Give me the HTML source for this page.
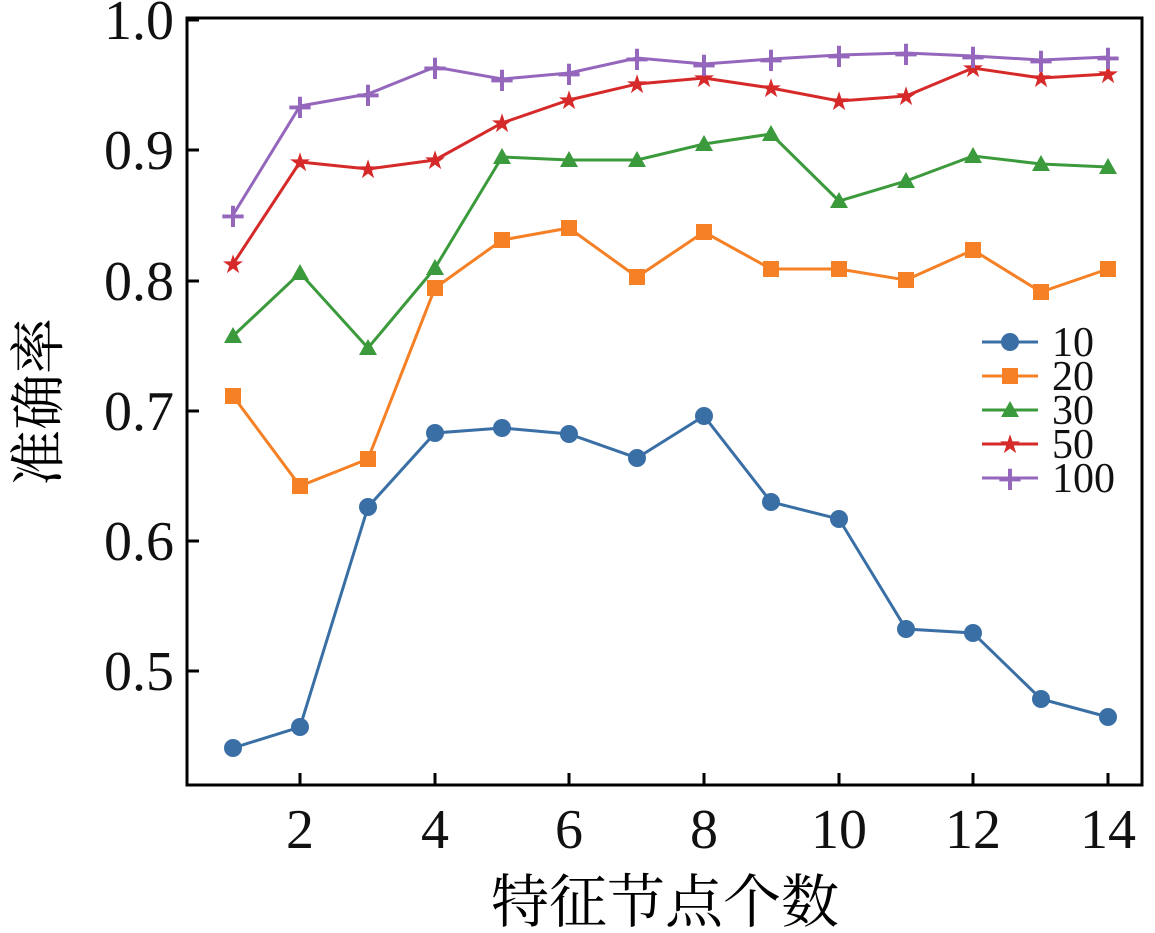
<!DOCTYPE html>
<html><head><meta charset="utf-8"><style>body{margin:0;background:#fff}svg{display:block}</style></head><body>
<svg width="1155" height="933" xmlns="http://www.w3.org/2000/svg" style="font-family:'Liberation Serif','Noto Serif CJK SC',serif">
<rect width="1155" height="933" fill="#fff"/>
<rect x="187" y="18" width="955" height="767" fill="none" stroke="#000" stroke-width="3"/>
<g stroke="#000" stroke-width="3">
<line x1="187" y1="20" x2="199" y2="20"/><line x1="187" y1="150" x2="199" y2="150"/><line x1="187" y1="281" x2="199" y2="281"/><line x1="187" y1="411" x2="199" y2="411"/><line x1="187" y1="541" x2="199" y2="541"/><line x1="187" y1="671" x2="199" y2="671"/>
<line x1="300" y1="785" x2="300" y2="773"/><line x1="435" y1="785" x2="435" y2="773"/><line x1="569" y1="785" x2="569" y2="773"/><line x1="704" y1="785" x2="704" y2="773"/><line x1="839" y1="785" x2="839" y2="773"/><line x1="973" y1="785" x2="973" y2="773"/><line x1="1108" y1="785" x2="1108" y2="773"/>
</g>
<g font-size="56" text-anchor="end" fill="#111" style="font-family:'Liberation Serif',serif">
<text x="174" y="39">1.0</text><text x="174" y="169">0.9</text><text x="174" y="300">0.8</text><text x="174" y="430">0.7</text><text x="174" y="560">0.6</text><text x="174" y="690">0.5</text>
</g>
<g font-size="56" text-anchor="middle" fill="#111" style="font-family:'Liberation Serif',serif">
<text x="300" y="848">2</text><text x="435" y="848">4</text><text x="569" y="848">6</text><text x="704" y="848">8</text><text x="839" y="848">10</text><text x="973" y="848">12</text><text x="1108" y="848">14</text>
</g>
<text x="665" y="922" font-size="58" text-anchor="middle" style="font-family:'Noto Serif CJK SC',serif">特征节点个数</text>
<text transform="translate(58,402) rotate(-90)" font-size="56" text-anchor="middle" style="font-family:'Noto Serif CJK SC',serif">准确率</text>
<g fill="none" stroke-width="3">
<polyline stroke="#3a6fa6" points="233,748 300,727 368,507 435,433 502,428 569,434 637,458 704,416 771,502 839,519 906,629 973,633 1041,699 1108,717"/>
<polyline stroke="#f58025" points="233,396 300,486 368,459 435,288 502,240 569,228 637,277 704,232 771,269 839,269 906,280 973,250 1041,292 1108,269"/>
<polyline stroke="#3b9a3b" points="233,336 300,273 368,348 435,268 502,157 569,160 637,160 704,144 771,134 839,201 906,181 973,156 1041,164 1108,167"/>
<polyline stroke="#d62a2a" points="233,264 300,162 368,169 435,160 502,123 569,100 637,84 704,78 771,88 839,101 906,96 973,68 1041,78 1108,74"/>
<polyline stroke="#9467bd" points="233,215 300,106 368,94 435,67 502,79 569,73 637,58 704,64 771,59 839,55 906,53 973,56 1041,60 1108,57"/>
</g>
<g fill="#3a6fa6">
<circle cx="233" cy="748" r="9"/><circle cx="300" cy="727" r="9"/><circle cx="368" cy="507" r="9"/><circle cx="435" cy="433" r="9"/><circle cx="502" cy="428" r="9"/><circle cx="569" cy="434" r="9"/><circle cx="637" cy="458" r="9"/><circle cx="704" cy="416" r="9"/><circle cx="771" cy="502" r="9"/><circle cx="839" cy="519" r="9"/><circle cx="906" cy="629" r="9"/><circle cx="973" cy="633" r="9"/><circle cx="1041" cy="699" r="9"/><circle cx="1108" cy="717" r="9"/>
</g>
<g fill="#f58025">
<rect x="225" y="388" width="16" height="16"/><rect x="292" y="478" width="16" height="16"/><rect x="360" y="451" width="16" height="16"/><rect x="427" y="280" width="16" height="16"/><rect x="494" y="232" width="16" height="16"/><rect x="561" y="220" width="16" height="16"/><rect x="629" y="269" width="16" height="16"/><rect x="696" y="224" width="16" height="16"/><rect x="763" y="261" width="16" height="16"/><rect x="831" y="261" width="16" height="16"/><rect x="898" y="272" width="16" height="16"/><rect x="965" y="242" width="16" height="16"/><rect x="1033" y="284" width="16" height="16"/><rect x="1100" y="261" width="16" height="16"/>
</g>
<g fill="#3b9a3b">
<polygon points="233,327 242,343 224,343"/><polygon points="300,264 309,280 291,280"/><polygon points="368,339 377,355 359,355"/><polygon points="435,259 444,275 426,275"/><polygon points="502,148 511,164 493,164"/><polygon points="569,151 578,167 560,167"/><polygon points="637,151 646,167 628,167"/><polygon points="704,135 713,151 695,151"/><polygon points="771,125 780,141 762,141"/><polygon points="839,192 848,208 830,208"/><polygon points="906,172 915,188 897,188"/><polygon points="973,147 982,163 964,163"/><polygon points="1041,155 1050,171 1032,171"/><polygon points="1108,158 1117,174 1099,174"/>
</g>
<g fill="#d62a2a" font-size="26" text-anchor="middle" style="font-family:'DejaVu Sans',sans-serif">
<text x="233" y="273">★</text><text x="300" y="171">★</text><text x="368" y="178">★</text><text x="435" y="169">★</text><text x="502" y="132">★</text><text x="569" y="109">★</text><text x="637" y="93">★</text><text x="704" y="87">★</text><text x="771" y="97">★</text><text x="839" y="110">★</text><text x="906" y="105">★</text><text x="973" y="77">★</text><text x="1041" y="87">★</text><text x="1108" y="83">★</text>
</g>
<g fill="#9467bd" font-size="34" text-anchor="middle" font-weight="bold" style="font-family:'DejaVu Sans',sans-serif">
<text x="233" y="227">+</text><text x="300" y="118">+</text><text x="368" y="106">+</text><text x="435" y="79">+</text><text x="502" y="91">+</text><text x="569" y="85">+</text><text x="637" y="70">+</text><text x="704" y="76">+</text><text x="771" y="71">+</text><text x="839" y="67">+</text><text x="906" y="65">+</text><text x="973" y="68">+</text><text x="1041" y="72">+</text><text x="1108" y="69">+</text>
</g>
<g stroke-width="3">
<line x1="982" y1="342" x2="1038" y2="342" stroke="#3a6fa6"/><circle cx="1010" cy="342" r="9" fill="#3a6fa6"/>
<line x1="982" y1="376" x2="1038" y2="376" stroke="#f58025"/><rect x="1002" y="368" width="16" height="16" fill="#f58025"/>
<line x1="982" y1="410" x2="1038" y2="410" stroke="#3b9a3b"/><polygon points="1010,401 1019,417 1001,417" fill="#3b9a3b"/>
<line x1="982" y1="444" x2="1038" y2="444" stroke="#d62a2a"/><text x="1010" y="453" font-size="26" text-anchor="middle" fill="#d62a2a" style="font-family:'DejaVu Sans',sans-serif">★</text>
<line x1="982" y1="478" x2="1038" y2="478" stroke="#9467bd"/><text x="1010" y="490" font-size="34" font-weight="bold" text-anchor="middle" fill="#9467bd" style="font-family:'DejaVu Sans',sans-serif">+</text>
</g>
<g font-size="42" fill="#111" style="font-family:'Liberation Serif',serif">
<text x="1052" y="356">10</text><text x="1052" y="390">20</text><text x="1052" y="424">30</text><text x="1052" y="458">50</text><text x="1052" y="492">100</text>
</g>
</svg>
</body></html>
